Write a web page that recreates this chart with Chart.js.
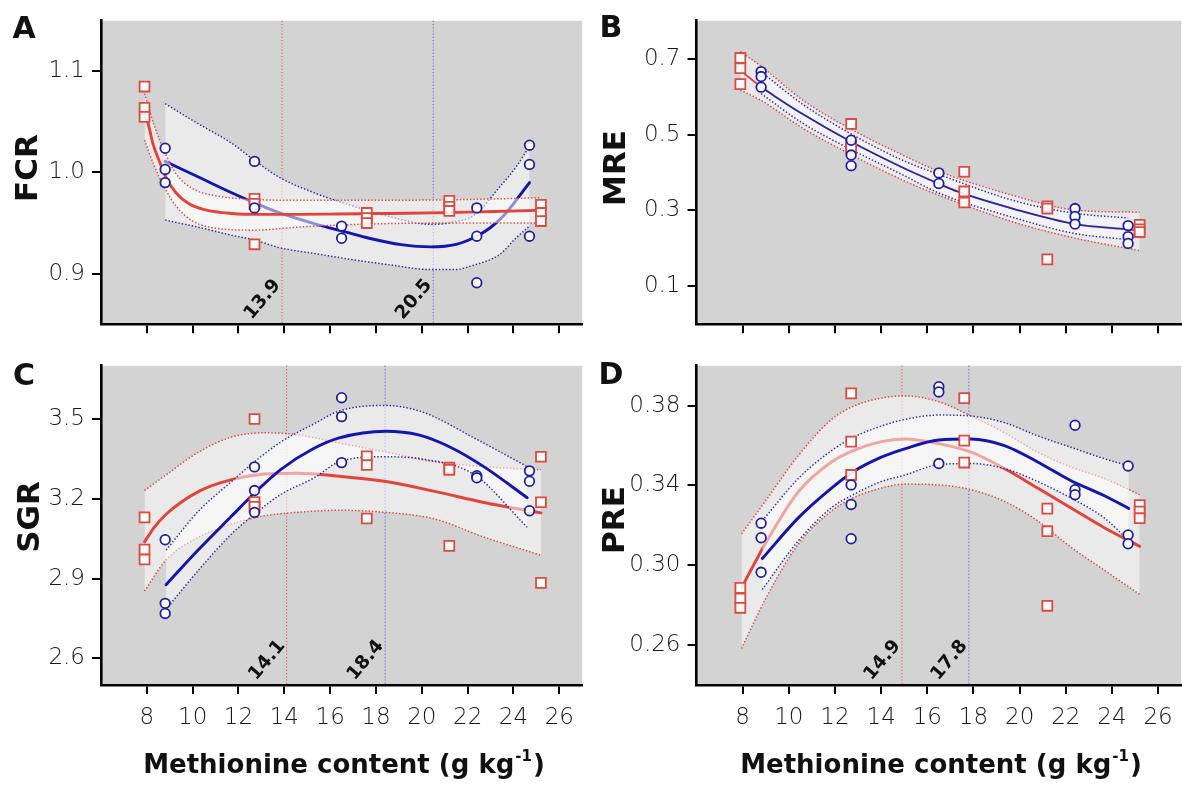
<!DOCTYPE html>
<html>
<head>
<meta charset="utf-8">
<script src="https://cdn.jsdelivr.net/npm/chart.js@4.4.1/dist/chart.umd.min.js"></script>
<style>
  html, body { margin: 0; padding: 0; background: #ffffff; }
  body { width: 1182px; height: 785px; overflow: hidden; position: relative; }
  canvas { position: absolute; }
</style>
</head>
<body>
<canvas id="panelA" width="591" height="345" style="left:0;top:0;width:591px;height:345px"></canvas>
<canvas id="panelB" width="600" height="345" style="left:590px;top:0;width:600px;height:345px"></canvas>
<canvas id="panelC" width="591" height="440" style="left:0;top:345px;width:591px;height:440px"></canvas>
<canvas id="panelD" width="600" height="440" style="left:590px;top:345px;width:600px;height:440px"></canvas>
<script>
// ---------- shared x values ----------
const xTickValues = [8, 10, 12, 14, 16, 18, 20, 22, 24, 26];
const redLevels = [7.9, 12.7, 17.6, 21.2, 25.2];
const blueLevels = [8.8, 12.7, 16.5, 22.4, 24.7];

// ---------- A: FCR ----------
const fcrTicks = [0.9, 1.0, 1.1];
const fcrRedObs = [[1.085, 1.064, 1.055], [0.974, 0.969, 0.929], [0.960, 0.955, 0.950], [0.972, 0.966, 0.962], [0.968, 0.960, 0.952]];
const fcrBlueObs = [[1.024, 1.003, 0.990], [1.011, 0.965], [0.947, 0.935], [0.965, 0.937, 0.891], [1.027, 1.008, 0.937]];
const fcrRedFitX = [7.9, 8.05, 8.26, 8.62, 8.84, 9.27, 9.84, 10.55, 11.7, 13.1, 14.6, 16.3, 18.5, 21.1, 23.2, 25.2];
const fcrRedFitY = [1.056, 1.049, 1.029, 1.007, 0.995, 0.980, 0.969, 0.963, 0.9595, 0.9586, 0.9586, 0.9589, 0.9595, 0.9603, 0.9615, 0.9626];
const fcrRedBandX = [7.9, 8.3, 8.8, 9.3, 10.0, 11.0, 12.7, 14.6, 17.6, 21.2, 25.2];
const fcrRedHi = [1.078, 1.048, 1.019, 0.998, 0.984, 0.977, 0.9734, 0.9725, 0.9725, 0.973, 0.975];
const fcrRedLo = [1.032, 1.008, 0.984, 0.966, 0.952, 0.945, 0.943, 0.946, 0.949, 0.950, 0.950];
const fcrBlueFitX = [8.8, 10.3, 11.7, 12.7, 13.8, 15.3, 16.7, 17.7, 19.1, 20.4, 21.5, 22.4, 23.0, 23.6, 24.1, 24.7];
const fcrBlueFitY = [1.011, 0.995, 0.980, 0.970, 0.960, 0.9495, 0.941, 0.935, 0.9287, 0.9265, 0.929, 0.937, 0.9456, 0.958, 0.972, 0.990];
const fcrBlueBandX = [8.8, 10.3, 11.7, 12.7, 13.8, 15.3, 16.7, 18.5, 20.4, 21.4, 22.3, 23.4, 24.1, 24.7];
const fcrBlueHi = [1.068, 1.0475, 1.029, 1.012, 0.995, 0.980, 0.969, 0.957, 0.9487, 0.951, 0.958, 0.9857, 1.005, 1.026];
const fcrBlueLo = [0.953, 0.9456, 0.938, 0.9333, 0.9256, 0.920, 0.9148, 0.909, 0.904, 0.904, 0.9086, 0.919, 0.935, 0.947];
const fcrOptima = [13.9, 20.5];

// ---------- B: MRE ----------
const mreTicks = [0.1, 0.3, 0.5, 0.7];
const mreRedObs = [[0.702, 0.675, 0.633], [0.528, 0.470, 0.465], [0.402, 0.350, 0.321], [0.311, 0.305, 0.171], [0.262, 0.250, 0.243]];
const mreBlueObs = [[0.666, 0.653, 0.625], [0.485, 0.446, 0.418], [0.399, 0.371], [0.305, 0.284, 0.264], [0.260, 0.231, 0.213]];
const mreRedFitX = [7.9, 8.8, 10.6, 12.7, 14.9, 17.3, 19.8, 22.4, 25.2];
const mreRedFitY = [0.669, 0.626, 0.554, 0.481, 0.414, 0.350, 0.303, 0.264, 0.246];
const mreRedBandX = [7.9, 8.8, 10.6, 12.7, 14.9, 16.5, 19.8, 22.4, 25.2];
const mreRedHi = [0.719, 0.680, 0.591, 0.514, 0.447, 0.403, 0.338, 0.301, 0.295];
const mreRedLo = [0.617, 0.590, 0.517, 0.447, 0.381, 0.340, 0.268, 0.227, 0.194];
const mreBlueFitX = [8.8, 10.6, 12.7, 14.9, 16.5, 17.3, 19.8, 22.4, 24.7];
const mreBlueFitY = [0.6245, 0.554, 0.481, 0.414, 0.3705, 0.350, 0.303, 0.264, 0.2505];
const mreBlueBandX = [8.8, 10.6, 12.7, 14.9, 16.5, 19.8, 22.4, 24.7];
const mreBlueHi = [0.6655, 0.580, 0.5015, 0.433, 0.395, 0.325, 0.2925, 0.280];
const mreBlueLo = [0.608, 0.530, 0.4606, 0.395, 0.346, 0.280, 0.239, 0.223];
const mreOptima = [];

// ---------- C: SGR ----------
const sgrTicks = [2.6, 2.9, 3.2, 3.5];
const sgrRedObs = [[3.130, 3.009, 2.972], [3.500, 3.188, 3.170], [3.360, 3.327, 3.126], [3.317, 3.309, 3.023], [3.358, 3.187, 2.884]];
const sgrBlueObs = [[3.046, 2.807, 2.769], [3.320, 3.231, 3.149], [3.580, 3.509, 3.336], [3.287, 3.279], [3.305, 3.266, 3.155]];
const sgrRedFitX = [7.9, 8.3, 8.84, 10.27, 11.7, 13.13, 14.56, 16.4, 18.43, 20.57, 22.72, 25.2];
const sgrRedFitY = [3.038, 3.090, 3.142, 3.228, 3.272, 3.293, 3.296, 3.285, 3.265, 3.228, 3.186, 3.147];
const sgrRedBandX = [7.9, 8.84, 10.27, 11.7, 13.13, 14.56, 16.4, 18.43, 20.57, 22.72, 25.2];
const sgrRedHi = [3.231, 3.290, 3.376, 3.432, 3.448, 3.441, 3.410, 3.376, 3.339, 3.321, 3.309];
const sgrRedLo = [2.853, 2.970, 3.056, 3.105, 3.136, 3.149, 3.157, 3.149, 3.124, 3.056, 2.988];
const sgrBlueFitX = [8.84, 10.27, 11.7, 12.7, 13.84, 15.28, 16.4, 18.43, 19.86, 21.29, 22.72, 24.6];
const sgrBlueFitY = [2.877, 3.010, 3.135, 3.222, 3.310, 3.389, 3.429, 3.454, 3.440, 3.392, 3.320, 3.204];
const sgrBlueBandX = [8.84, 10.27, 11.7, 12.7, 13.84, 15.28, 16.4, 18.3, 20.0, 22.3, 24.6];
const sgrBlueHi = [3.007, 3.155, 3.265, 3.339, 3.413, 3.481, 3.530, 3.551, 3.527, 3.428, 3.321];
const sgrBlueLo = [2.785, 2.933, 3.068, 3.142, 3.216, 3.278, 3.339, 3.358, 3.350, 3.290, 3.093];
const sgrOptima = [14.1, 18.4];

// ---------- D: PRE ----------
const preTicks = [0.26, 0.30, 0.34, 0.38];
const preRedObs = [[0.2887, 0.2833, 0.2787], [0.3862, 0.3620, 0.3453], [0.3838, 0.3625, 0.3515], [0.3284, 0.3171, 0.2797], [0.3302, 0.3269, 0.3236]];
const preBlueObs = [[0.3211, 0.3138, 0.2965], [0.3403, 0.3305, 0.3133], [0.3895, 0.3869, 0.3510], [0.3702, 0.3379, 0.3354], [0.3498, 0.3152, 0.3108]];
const preRedFitX = [7.95, 8.4, 8.9, 10.42, 11.85, 12.79, 14.01, 15.02, 16.5, 17.9, 19.34, 20.78, 22.21, 23.65, 25.2];
const preRedFitY = [0.2887, 0.2985, 0.3092, 0.3370, 0.3518, 0.3575, 0.3620, 0.3633, 0.3610, 0.3567, 0.3485, 0.3387, 0.3289, 0.3190, 0.3095];
const preRedBandX = [7.95, 8.98, 10.42, 11.85, 12.79, 14.01, 15.02, 16.5, 17.9, 19.34, 20.78, 22.21, 23.65, 25.2];
const preRedHi = [0.3157, 0.3321, 0.3551, 0.3731, 0.3797, 0.3838, 0.3849, 0.3820, 0.3748, 0.3665, 0.3567, 0.3493, 0.3436, 0.3354];
const preRedLo = [0.2583, 0.2829, 0.3108, 0.3272, 0.3338, 0.3387, 0.3407, 0.3403, 0.3379, 0.3321, 0.3223, 0.3092, 0.2977, 0.2854];
const preBlueFitX = [8.85, 10.42, 11.85, 12.79, 14.01, 15.02, 16.5, 17.9, 19.34, 20.78, 22.21, 23.65, 24.73];
const preBlueFitY = [0.3034, 0.3239, 0.3387, 0.3469, 0.3542, 0.3584, 0.3628, 0.3633, 0.3600, 0.3518, 0.3425, 0.3350, 0.3285];
const preBlueHi = [0.3223, 0.3436, 0.3575, 0.3641, 0.3698, 0.3731, 0.3753, 0.3748, 0.3715, 0.3649, 0.3592, 0.3535, 0.3498];
const preBlueLo = [0.2878, 0.3124, 0.3289, 0.3354, 0.3420, 0.3452, 0.3505, 0.3510, 0.3485, 0.3420, 0.3338, 0.3239, 0.3124];
const preOptima = [14.9, 17.8];

// ---------- styling ----------
const TICK_FONT = "'DejaVu Sans', Lato, sans-serif";
const BOLD_FONT = "'DejaVu Sans', Lato, sans-serif";
const PANEL_GREY = '#d3d3d3';
const RED_LINE = '#e0443a';
const BLUE_LINE = '#1414ae';
const RED_MARK = '#dc4b40';
const BLUE_MARK = '#20209e';
const RED_DOT = 'rgba(210,66,56,0.95)';
const BLUE_DOT = 'rgba(34,34,148,0.95)';
const RED_GUIDE = '#e06060';
const BLUE_GUIDE = '#6464d4';

const xy = (xs, ys) => xs.map((x, i) => ({ x, y: ys[i] }));
const groups = (levels, obs) => obs.flatMap((g, i) => g.map(y => ({ x: levels[i], y })));

function markerSet(levels, obs, shape, color, radius, order) {
  return {
    data: groups(levels, obs), showLine: false, order,
    pointStyle: shape, pointRadius: radius, pointBorderWidth: 1.8,
    pointBorderColor: color, pointBackgroundColor: 'rgba(255,255,255,0.9)'
  };
}

// band (filled between upper and lower dotted limits) plus fitted curve
function bandAndFit(s, base, fitWidth, fillColor) {
  const dotted = { pointRadius: 0, borderWidth: 1.5, borderDash: [1.4, 2.0], borderColor: s.dot, cubicInterpolationMode: 'monotone' };
  return [
    Object.assign({ data: xy(s.bandX, s.hi), fill: '+1', backgroundColor: fillColor, order: base + 2 }, dotted),
    Object.assign({ data: xy(s.bandX, s.lo), fill: false, order: base + 1 }, dotted),
    { data: xy(s.fitX, s.fitY), fill: false, pointRadius: 0, borderWidth: fitWidth, borderColor: s.line,
      cubicInterpolationMode: 'monotone', order: base, borderCapStyle: 'round' }
  ];
}

const decor = {
  id: 'decor',
  beforeDraw(chart) {
    const { ctx, chartArea: a } = chart;
    ctx.save();
    ctx.fillStyle = PANEL_GREY;
    ctx.fillRect(a.left, a.top, a.right - a.left, a.bottom - a.top);
    ctx.restore();
  },
  beforeDatasetsDraw(chart, _args, o) {
    const { ctx, chartArea: a } = chart;
    const x = chart.scales.x;
    ctx.save();
    ctx.lineWidth = 1.1;
    ctx.setLineDash([1.2, 2.0]);
    o.optima.forEach((v, i) => {
      const px = x.getPixelForValue(v);
      ctx.strokeStyle = i === 0 ? RED_GUIDE : BLUE_GUIDE;
      ctx.beginPath();
      ctx.moveTo(px, a.top);
      ctx.lineTo(px, a.bottom);
      ctx.stroke();
    });
    ctx.restore();
  },
  afterDraw(chart, _args, o) {
    const { ctx, chartArea: a } = chart;
    const x = chart.scales.x;
    ctx.save();
    ctx.fillStyle = '#111111';
    // optimum values along the guide lines
    ctx.font = `bold 18.5px ${BOLD_FONT}`;
    ctx.textAlign = 'right';
    ctx.textBaseline = 'alphabetic';
    o.optima.forEach(v => {
      ctx.save();
      ctx.translate(x.getPixelForValue(v) - 1, a.bottom - 39);
      ctx.rotate(-50 * Math.PI / 180);
      ctx.fillText(v.toFixed(1), 0, 0);
      ctx.restore();
    });
    // panel letter
    ctx.textAlign = 'center';
    ctx.font = `bold 30px ${BOLD_FONT}`;
    ctx.fillText(o.letter, o.letterAt[0], o.letterAt[1] + 11);
    // y title
    ctx.save();
    ctx.translate(o.yTitleAt[0], o.yTitleAt[1]);
    ctx.rotate(-Math.PI / 2);
    ctx.font = `bold 31px ${BOLD_FONT}`;
    ctx.fillText(o.yTitle, 0, 11);
    ctx.restore();
    // x title with superscript unit
    if (o.xTitleAt) {
      const main = 'Methionine content (g kg', sup = '-1', tail = ')';
      const bigFont = `bold 26px ${BOLD_FONT}`, supFont = `bold 15px ${BOLD_FONT}`;
      ctx.font = bigFont; const w1 = ctx.measureText(main).width, w3 = ctx.measureText(tail).width;
      ctx.font = supFont; const w2 = ctx.measureText(sup).width;
      let cx = o.xTitleAt[0] - (w1 + w2 + w3 + 2) / 2;
      const base = o.xTitleAt[1];
      ctx.textAlign = 'left';
      ctx.font = bigFont; ctx.fillText(main, cx, base); cx += w1 + 1;
      ctx.font = supFont; ctx.fillText(sup, cx, base - 12); cx += w2 + 1;
      ctx.font = bigFont; ctx.fillText(tail, cx, base);
    }
    ctx.restore();
  }
};

function buildPanel(id, p) {
  const upper = p.redUnder ? p.blue : p.red;
  const lower = p.redUnder ? p.red : p.blue;
  const datasets = [
    markerSet(blueLevels, p.blue.obs, 'circle', BLUE_MARK, 4.8, 0),
    markerSet(redLevels, p.red.obs, 'rect', RED_MARK, 7, 1),
    ...bandAndFit(upper, 2, p.fitWidth, p.fill),
    ...bandAndFit(lower, 5, p.fitWidth, p.fill)
  ];
  const axisCommon = {
    type: 'linear',
    border: { display: true, color: '#000', width: 2.6 },
    grid: { drawOnChartArea: false, drawTicks: true, tickLength: 9, tickWidth: 2, tickColor: '#000', lineWidth: 2 }
  };
  const tickFont = { family: TICK_FONT, size: 23, weight: '200' };
  return new Chart(document.getElementById(id), {
    type: 'line',
    data: { datasets },
    plugins: [decor],
    options: {
      responsive: false, animation: false, devicePixelRatio: 1, events: [],
      layout: { padding: { top: p.padTop, right: p.padRight, left: 0, bottom: 0 } },
      plugins: {
        legend: { display: false }, tooltip: { enabled: false },
        filler: { propagate: false, drawTime: 'beforeDatasetDraw' },
        decor: { optima: p.optima, letter: p.letter, letterAt: p.letterAt, yTitle: p.yTitle, yTitleAt: p.yTitleAt, xTitleAt: p.xTitleAt }
      },
      scales: {
        x: Object.assign({}, axisCommon, {
          min: 6, max: 27,
          afterBuildTicks: s => { s.ticks = xTickValues.map(v => ({ value: v })); },
          afterFit: s => { s.height = p.xHeight; },
          ticks: { display: p.showX, autoSkip: false, maxRotation: 0, padding: 10, color: '#1a1a1a',
                   font: tickFont, callback: v => String(v) }
        }),
        y: Object.assign({}, axisCommon, {
          min: p.yMin, max: p.yMax,
          afterBuildTicks: s => { s.ticks = p.yTicks.map(v => ({ value: v })); },
          afterFit: s => { s.width = p.yWidth; },
          ticks: { autoSkip: false, padding: 7, color: '#1a1a1a',
                   font: tickFont, callback: v => v.toFixed(p.decimals) }
        })
      }
    }
  });
}

const WHITE_FILL = 'rgba(255,255,255,0.52)';

buildPanel('panelA', {
  yMin: 0.85, yMax: 1.15, yTicks: fcrTicks, decimals: 1,
  yWidth: 101, padTop: 8, padRight: 1, xHeight: 12, showX: false,
  redUnder: false, fitWidth: 2.9, fill: WHITE_FILL,
  red: { obs: fcrRedObs, fitX: fcrRedFitX, fitY: fcrRedFitY, bandX: fcrRedBandX, hi: fcrRedHi, lo: fcrRedLo, line: RED_LINE, dot: RED_DOT },
  blue: { obs: fcrBlueObs, fitX: fcrBlueFitX, fitY: fcrBlueFitY, bandX: fcrBlueBandX, hi: fcrBlueHi, lo: fcrBlueLo, line: BLUE_LINE, dot: BLUE_DOT },
  optima: fcrOptima, letter: 'A', letterAt: [24, 27], yTitle: 'FCR', yTitleAt: [26, 168], xTitleAt: null
});

buildPanel('panelB', {
  yMin: 0, yMax: 0.8, yTicks: mreTicks, decimals: 1,
  yWidth: 106.5, padTop: 8, padRight: 5.2, xHeight: 12, showX: false,
  redUnder: true, fitWidth: 1.8, fill: 'rgba(250,250,255,0.58)',
  red: { obs: mreRedObs, fitX: mreRedFitX, fitY: mreRedFitY, bandX: mreRedBandX, hi: mreRedHi, lo: mreRedLo, line: RED_LINE, dot: RED_DOT },
  blue: { obs: mreBlueObs, fitX: mreBlueFitX, fitY: mreBlueFitY, bandX: mreBlueBandX, hi: mreBlueHi, lo: mreBlueLo, line: '#2a2aa0', dot: BLUE_DOT },
  optima: mreOptima, letter: 'B', letterAt: [21, 26], yTitle: 'MRE', yTitleAt: [24, 168], xTitleAt: null
});

buildPanel('panelC', {
  yMin: 2.5, yMax: 3.7, yTicks: sgrTicks, decimals: 1,
  yWidth: 101, padTop: 13.3, padRight: 1, xHeight: 100, showX: true,
  redUnder: true, fitWidth: 2.9, fill: WHITE_FILL,
  red: { obs: sgrRedObs, fitX: sgrRedFitX, fitY: sgrRedFitY, bandX: sgrRedBandX, hi: sgrRedHi, lo: sgrRedLo, line: RED_LINE, dot: RED_DOT },
  blue: { obs: sgrBlueObs, fitX: sgrBlueFitX, fitY: sgrBlueFitY, bandX: sgrBlueBandX, hi: sgrBlueHi, lo: sgrBlueLo, line: BLUE_LINE, dot: BLUE_DOT },
  optima: sgrOptima, letter: 'C', letterAt: [24, 28.5], yTitle: 'SGR', yTitleAt: [28, 172], xTitleAt: [344, 428]
});

buildPanel('panelD', {
  yMin: 0.24, yMax: 0.40, yTicks: preTicks, decimals: 2,
  yWidth: 106.5, padTop: 13.3, padRight: 5.2, xHeight: 100, showX: true,
  redUnder: true, fitWidth: 2.9, fill: WHITE_FILL,
  red: { obs: preRedObs, fitX: preRedFitX, fitY: preRedFitY, bandX: preRedBandX, hi: preRedHi, lo: preRedLo, line: RED_LINE, dot: RED_DOT },
  blue: { obs: preBlueObs, fitX: preBlueFitX, fitY: preBlueFitY, bandX: preBlueFitX, hi: preBlueHi, lo: preBlueLo, line: BLUE_LINE, dot: BLUE_DOT },
  optima: preOptima, letter: 'D', letterAt: [21, 28], yTitle: 'PRE', yTitleAt: [23, 175], xTitleAt: [351, 428]
});
</script>
</body>
</html>
